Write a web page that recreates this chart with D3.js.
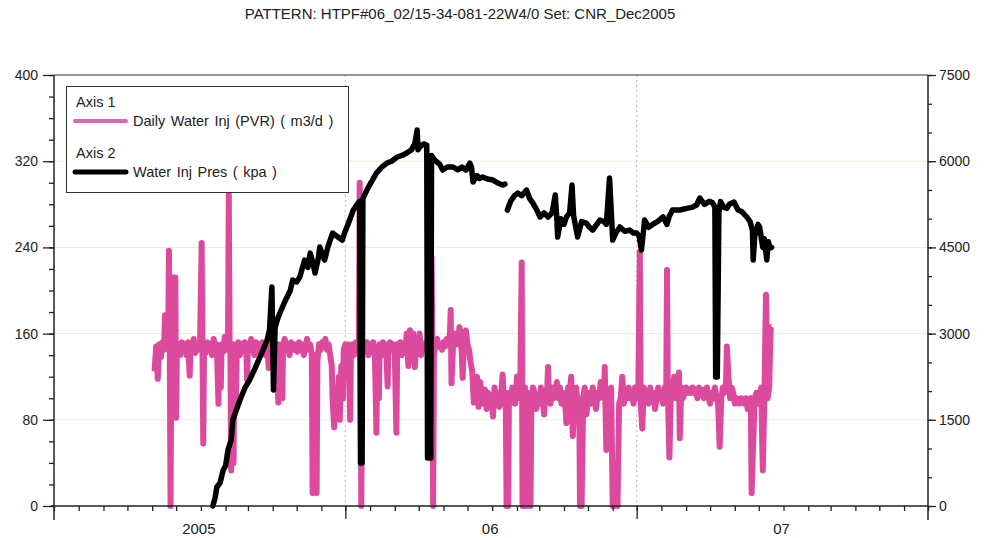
<!DOCTYPE html>
<html>
<head>
<meta charset="utf-8">
<script src="https://cdn.jsdelivr.net/npm/d3@7/dist/d3.min.js"></script>
<style>
  html, body { margin: 0; padding: 0; background: #fff; }
  svg { display: block; font-family: "Liberation Sans", Arial, sans-serif; }
</style>
</head>
<body>
<svg id="chart" width="984" height="538"></svg>
<script>
// ---------------- DATA ----------------
const titleText = "PATTERN: HTPF#06_02/15-34-081-22W4/0 Set: CNR_Dec2005";
const baseDate = new Date(2004, 6, 1);   // day 0 of the day-offset arrays
const xDomain = [new Date(2004, 6, 1), new Date(2007, 6, 1)];
const yLeftTicks = [0, 80, 160, 240, 320, 400];
const yRightTicks = [0, 1500, 3000, 4500, 6000, 7500];
const yearLabels = ["2005", "06", "07"];
const yearLabelDates = [new Date(2005, 0, 1), new Date(2006, 0, 1), new Date(2007, 0, 1)];
const legendGroups = ["Axis 1", "Axis 2"];
const seriesNames = ["Daily Water Inj (PVR) ( m3/d )", "Water Inj Pres ( kpa )"];

// Daily Water Inj (days since 2004-07-01)
const injDay = [126,128,130,132,134,136,138,139,140,142,143,144,145,146,147,149,150,151,152,153,154,156,158,160,162,164,166,168,170,171,173,175,177,179,181,183,185,186,187,188,190,192,194,196,198,200,
202,204,206,207,209,210,212,214,216,218,219,220,221,222,223,225,226,228,229,231,233,235,237,239,241,242,243,245,247,249,251,253,255,257,259,261,263,265,267,269,271,273,275,277,279,281,282,284,286,287,289,291,293,295,297,299,301,303,305,307,309,311,313,315,317,319,321,323,324,325,327,329,330,332,334,336,338,340,342,344,346,348,349,351,353,355,357,358,360,362,363,365,367,369,371,372,374,376,378,380,382,383,384,385,386,388,390,392,394,396,398,400,402,404,405,407,408,410,412,414,416,418,419,421,423,425,427,429,430,432,434,436,438,440,442,444,446,448,450,452,454,456,458,460,462,464,466,468,470,472,473,474,475,476,478,
480,482,484,486,488,490,492,494,496,497,498,500,502,504,506,508,510,512,514,516,518,520,522,524,526,528,530,532,534,536,538,540,542,544,546,548,550,552,554,556,558,560,562,564,566,567,569,570,572,574,576,578,580,582,584,586,587,589,590,592,593,595,597,598,600,602,604,606,608,610,612,614,616,618,619,620,622,624,626,628,630,632,634,636,638,640,642,644,646,648,650,652,654,656,658,659,661,663,665,667,669,671,673,675,677,679,681,683,685,687,689,690,692,694,696,698,700,702,704,706,708,710,712,714,716,718,720,722,724,726,728,730,732,734,735,737,739,741,743,745,747,749,751,753,755,757,759,761,763,765,767,768,769,771,773,775,777,779,781,783,784,786,788,790,792,794,796,798,800,802,804,806,808,810,812,814,816,818,820,822,824,826,828,830,832,834,836,838,840,842,843,845,847,849,851,853,855,857,859,861,863,865,867,869,871,873,874,876,878,880,882,884,886,888,890,892,894,896,898,899];
const injRate = [125,148,118,150,138,152,145,177,150,155,148,237,150,0,150,212,150,160,212,82,148,150,140,152,145,150,140,152,121,150,145,155,142,150,145,152,244,148,58,150,142,152,145,150,140,155,
145,150,95,148,110,150,143,157,145,150,289,150,140,33,148,40,150,100,145,152,140,150,145,152,143,117,150,145,155,148,140,152,145,150,140,152,148,140,150,128,150,155,145,150,140,96,150,145,100,150,155,145,150,140,152,148,145,150,143,152,145,150,140,148,155,145,150,140,12,130,140,12,135,150,145,152,148,155,145,150,140,130,100,73,110,90,120,80,130,100,145,150,140,150,80,145,150,140,152,148,145,300,150,0,140,150,145,152,140,150,145,152,140,68,148,100,150,145,152,140,150,111,148,152,145,150,140,68,150,145,152,140,150,145,160,130,163,135,160,129,150,145,160,140,150,145,152,148,150,145,231,150,0,140,150,
155,148,150,145,152,148,155,150,160,182,114,150,160,155,150,166,158,119,160,163,150,145,133,125,96,110,120,92,115,100,95,108,90,105,95,100,83,110,95,105,92,100,122,95,100,0,0,105,95,110,100,95,120,110,100,226,0,0,110,0,105,100,0,95,110,105,90,100,95,110,100,85,105,110,129,100,95,110,100,105,115,100,110,95,105,100,77,110,105,120,65,100,110,95,100,0,0,100,110,85,100,105,95,110,100,90,105,100,115,105,100,129,52,105,100,110,0,0,40,0,95,100,120,95,105,100,110,100,105,95,110,100,105,236,95,72,110,100,105,95,110,100,105,90,100,110,100,105,95,110,100,219,110,45,110,105,120,100,110,124,63,110,100,105,110,105,108,105,110,105,108,100,110,105,108,100,105,110,100,95,105,100,110,100,95,55,100,110,105,115,148,120,100,110,105,95,100,98,95,100,98,95,100,90,98,100,12,60,100,105,95,100,110,33,100,196,100,110,166,166];

// Water Inj Pres (days since 2004-07-01); null = gap in record
const presDay = [199,202,204,208,212,215,218,222,224,228,233,239,245,252,258,263,267,270,273,274,275,277,280,283,289,296,299,304,308,314,318,321,324,327,331,333,337,339,343,349,354,361,364,367,371,375,381,383,384,386,387,392,398,404,411,417,423,430,436,442,448,452,455,456,458,463,467,468,472,473,477,483,487,493,500,506,511,516,521,523,525,530,533,537,543,550,556,562,565,566,568,572,577,581,586,592,596,600,605,609,614,619,624,628,630,631,635,639,642,646,649,651,656,661,667,671,675,680,684,689,692,696,699,700,704,709,715,721,726,730,733,736,740,745,750,756,763,768,771,775,784,793,800,805,809,815,821,825,828,829,831,833,835,839,843,846,852,857,862,868,872,875,876,878,882,884,888,890,893,895,897,899];
const presKpa = [0,150,330,400,626,700,974,1150,1496,1650,1844,2050,2192,2400,2593,2750,2888,3062,3811,2900,2018,3100,3250,3358,3550,3750,3932,3900,3985,4280,4150,4400,4250,4054,4300,4506,4350,4280,4500,4750,4700,4628,4750,4855,5000,5150,5272,5300,748,748,5350,5498,5650,5794,5900,5968,6000,6073,6100,6142,6200,6300,6542,6200,6246,6300,6281,835,835,6100,6020,5950,5846,5900,5899,5850,5900,5846,5968,5900,5638,5750,5700,5725,5690,5672,5620,5585,5600,null,5150,5300,5400,5446,5400,5498,5350,5272,5150,5029,5100,5029,5100,5411,5000,4680,5000,4900,5029,5100,5585,5050,4680,4950,4924,4850,4802,4900,4976,4950,4900,5707,4900,4628,4750,4855,4780,4802,4750,4750,4700,4454,4976,4850,4900,4950,5029,4900,5050,5150,5150,5180,5200,5237,5359,5250,5300,5280,5200,2245,2245,5100,5300,5200,5180,5250,5290,5150,5120,5029,4950,4802,4280,4700,4900,4855,4500,4650,4280,4600,4489,4500];

// ---------------- CHART ----------------
const svg = d3.select("#chart");
const L = 54, R = 928, T = 75, B = 506;
const pink = "#dc4a9d";

const x = d3.scaleTime().domain(xDomain).range([L, R]);
const yL = d3.scaleLinear().domain([0, 400]).range([B, T]);
const yR = d3.scaleLinear().domain([0, 7500]).range([B, T]);
const toDate = d => d3.timeDay.offset(baseDate, d);

// title
svg.append("text").attr("x", 460).attr("y", 19).attr("text-anchor", "middle")
  .attr("font-size", 15).attr("fill", "#222").text(titleText);

// faint horizontal grid
svg.append("g").selectAll("line").data(yLeftTicks.filter(v => v > 0 && v < 400)).join("line")
  .attr("x1", L).attr("x2", R).attr("y1", d => yL(d)).attr("y2", d => yL(d))
  .attr("stroke", "#e6eedb").attr("stroke-width", 1);

// vertical dotted grid at mid-year
const midYears = [new Date(2005, 6, 1), new Date(2006, 6, 1)];
svg.append("g").selectAll("line").data(midYears).join("line")
  .attr("x1", d => x(d)).attr("x2", d => x(d)).attr("y1", T).attr("y2", B)
  .attr("stroke", "#b8b8b8").attr("stroke-width", 1).attr("stroke-dasharray", "2,3");

// series
const injData = injDay.map((d, i) => ({ date: toDate(d), v: injRate[i] }));
const presData = presDay.map((d, i) => ({ date: toDate(d), v: presKpa[i] }));

svg.append("path").datum(injData)
  .attr("fill", "none").attr("stroke", pink).attr("stroke-width", 6)
  .attr("stroke-linejoin", "round")
  .attr("d", d3.line().x(d => x(d.date)).y(d => yL(d.v)));

svg.append("path").datum(presData)
  .attr("fill", "none").attr("stroke", "#000").attr("stroke-width", 5.5)
  .attr("stroke-linejoin", "round").attr("stroke-linecap", "round")
  .attr("d", d3.line().defined(d => d.v != null).x(d => x(d.date)).y(d => yR(d.v)));

// frame top
svg.append("line").attr("x1", L).attr("x2", R).attr("y1", T).attr("y2", T)
  .attr("stroke", "#333").attr("stroke-width", 1.2);

// left axis
const axisColor = "#222";
const gLm = svg.append("g").attr("transform", `translate(${L},0)`)
  .call(d3.axisLeft(yL).tickValues(d3.range(0, 401, 20)).tickSize(5).tickFormat(""));
const gL = svg.append("g").attr("transform", `translate(${L},0)`)
  .call(d3.axisLeft(yL).tickValues(yLeftTicks).tickSize(11).tickPadding(5).tickFormat(d3.format("d")));
// right axis
const gRm = svg.append("g").attr("transform", `translate(${R},0)`)
  .call(d3.axisRight(yR).tickValues(d3.range(0, 7501, 500)).tickSize(4).tickFormat(""));
const gR = svg.append("g").attr("transform", `translate(${R},0)`)
  .call(d3.axisRight(yR).tickValues(yRightTicks).tickSize(8).tickPadding(3).tickFormat(d3.format("d")));
// bottom axis
const gBm = svg.append("g").attr("transform", `translate(0,${B})`)
  .call(d3.axisBottom(x).ticks(d3.timeMonth.every(1)).tickSize(5).tickFormat(""));
const gBM = svg.append("g").attr("transform", `translate(0,${B})`)
  .call(d3.axisBottom(x).tickValues(midYears).tickSize(13).tickFormat(""));

[gLm, gL, gRm, gR, gBm, gBM].forEach(g => {
  g.select(".domain").remove();
  g.selectAll(".tick line").attr("stroke", axisColor).attr("stroke-width", 1.3);
  g.selectAll("text").attr("font-size", 14).attr("fill", "#222")
    .attr("font-family", "'Liberation Sans', Arial, sans-serif");
});

// axis lines (extend slightly below zero)
svg.append("line").attr("x1", L).attr("x2", L).attr("y1", T).attr("y2", B + 14)
  .attr("stroke", axisColor).attr("stroke-width", 1.5);
svg.append("line").attr("x1", R).attr("x2", R).attr("y1", T).attr("y2", B + 14)
  .attr("stroke", axisColor).attr("stroke-width", 1.5);
svg.append("line").attr("x1", L - 3).attr("x2", R).attr("y1", B).attr("y2", B)
  .attr("stroke", axisColor).attr("stroke-width", 1.5);

// year labels
svg.append("g").selectAll("text").data(yearLabelDates).join("text")
  .attr("x", d => x(d) - 2).attr("y", 534).attr("text-anchor", "middle")
  .attr("font-size", 15).attr("fill", "#222").text((d, i) => yearLabels[i]);

// legend
const lg = svg.append("g");
lg.append("rect").attr("x", 66.5).attr("y", 86.5).attr("width", 282).attr("height", 106)
  .attr("fill", "#fff").attr("stroke", "#333").attr("stroke-width", 1);
const legendRows = [
  { head: legendGroups[0], name: seriesNames[0], color: "#e364ad", w: 4, y: 102 },
  { head: legendGroups[1], name: seriesNames[1], color: "#000", w: 5, y: 153 }
];
legendRows.forEach(r => {
  lg.append("text").attr("x", 76).attr("y", r.y + 5).attr("font-size", 14.5).attr("fill", "#222").text(r.head);
  lg.append("line").attr("x1", 75).attr("x2", 126).attr("y1", r.y + 19).attr("y2", r.y + 19)
    .attr("stroke", r.color).attr("stroke-width", r.w).attr("stroke-linecap", "round");
  lg.append("text").attr("x", 133).attr("y", r.y + 24).attr("font-size", 14.5)
    .attr("word-spacing", 1.5).attr("fill", "#222").text(r.name);
});
</script>
</body>
</html>
